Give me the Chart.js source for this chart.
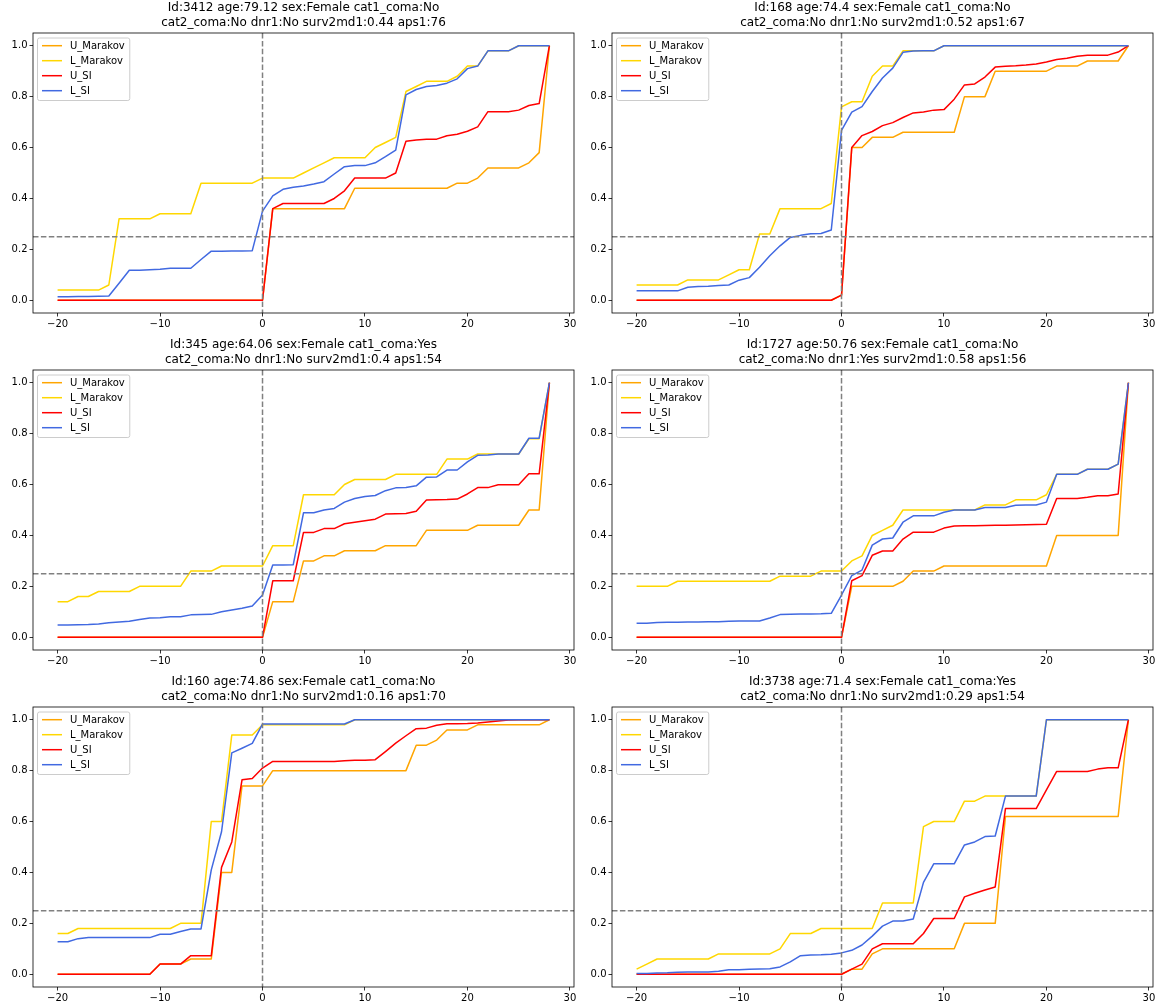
<!DOCTYPE html>
<html>
<head>
<meta charset="utf-8">
<script src="https://cdn.jsdelivr.net/npm/chart.js@4.4.1/dist/chart.umd.min.js"></script>
<style>
  html, body { margin: 0; padding: 0; background: #fff; width: 1158px; height: 1007px; overflow: hidden; }
  canvas { position: absolute; }
</style>
</head>
<body>
<canvas id="c1" width="607" height="335" style="left:0px;top:0px"></canvas>
<canvas id="c2" width="607" height="335" style="left:579px;top:0px"></canvas>
<canvas id="c3" width="607" height="335" style="left:0px;top:337px"></canvas>
<canvas id="c4" width="607" height="335" style="left:579px;top:337px"></canvas>
<canvas id="c5" width="607" height="335" style="left:0px;top:674px"></canvas>
<canvas id="c6" width="607" height="335" style="left:579px;top:674px"></canvas>
<script>
// x values (days relative to event)
const days = [-20,-19,-18,-17,-16,-15,-14,-13,-12,-11,-10,-9,-8,-7,-6,-5,-4,-3,-2,-1,
  0,1,2,3,4,5,6,7,8,9,10,11,12,13,14,15,16,17,18,19,20,21,22,23,24,25,26,27,28];
const xTicks = [-20, -10, 0, 10, 20, 30];
const yTicks = [0, 0.2, 0.4, 0.6, 0.8, 1.0];
const refX = 0;
const refY = 0.25;
const seriesNames = ['U_Marakov', 'L_Marakov', 'U_SI', 'L_SI'];
const seriesColors = ['#FFA500', '#FFD700', '#FF0000', '#4169E1'];

const titles = [
  ['Id:3412 age:79.12 sex:Female cat1_coma:No', 'cat2_coma:No dnr1:No surv2md1:0.44 aps1:76'],
  ['Id:168 age:74.4 sex:Female cat1_coma:No', 'cat2_coma:No dnr1:No surv2md1:0.52 aps1:67'],
  ['Id:345 age:64.06 sex:Female cat1_coma:Yes', 'cat2_coma:No dnr1:No surv2md1:0.4 aps1:54'],
  ['Id:1727 age:50.76 sex:Female cat1_coma:No', 'cat2_coma:No dnr1:Yes surv2md1:0.58 aps1:56'],
  ['Id:160 age:74.86 sex:Female cat1_coma:No', 'cat2_coma:No dnr1:No surv2md1:0.16 aps1:70'],
  ['Id:3738 age:71.4 sex:Female cat1_coma:Yes', 'cat2_coma:No dnr1:No surv2md1:0.29 aps1:54']
];

// panel 1 - Id 3412
const p1UMarakov = [0,0,0,0,0,0,0,0,0,0,0,0,0,0,0,0,0,0,0,0,
  0,0.36,0.36,0.36,0.36,0.36,0.36,0.36,0.36,0.44,0.44,0.44,0.44,0.44,0.44,0.44,0.44,0.44,0.44,0.46,0.46,0.48,0.52,0.52,0.52,0.52,0.54,0.58,1.0];
const p1LMarakov = [0.04,0.04,0.04,0.04,0.04,0.06,0.32,0.32,0.32,0.32,0.34,0.34,0.34,0.34,0.46,0.46,0.46,0.46,0.46,0.46,
  0.48,0.48,0.48,0.48,0.50,0.52,0.54,0.56,0.56,0.56,0.56,0.60,0.62,0.64,0.82,0.84,0.86,0.86,0.86,0.88,0.92,0.92,0.98,0.98,0.98,1.0,1.0,1.0,1.0];
const p1USI = [0,0,0,0,0,0,0,0,0,0,0,0,0,0,0,0,0,0,0,0,
  0,0.36,0.38,0.38,0.38,0.38,0.38,0.40,0.43,0.48,0.48,0.48,0.48,0.50,0.625,0.63,0.633,0.633,0.646,0.652,0.664,0.681,0.741,0.741,0.741,0.747,0.765,0.773,1.0];
const p1LSI = [0.014,0.014,0.015,0.015,0.016,0.017,0.067,0.118,0.118,0.12,0.122,0.126,0.126,0.126,0.16,0.193,0.193,0.194,0.194,0.195,
  0.35,0.41,0.436,0.444,0.449,0.457,0.466,0.496,0.525,0.529,0.529,0.54,0.564,0.59,0.807,0.828,0.84,0.844,0.853,0.87,0.91,0.92,0.98,0.98,0.98,1.0,1.0,1.0,1.0];

// panel 2 - Id 168
const p2UMarakov = [0,0,0,0,0,0,0,0,0,0,0,0,0,0,0,0,0,0,0,0,
  0.02,0.60,0.60,0.64,0.64,0.64,0.66,0.66,0.66,0.66,0.66,0.66,0.80,0.80,0.80,0.90,0.90,0.90,0.90,0.90,0.90,0.92,0.92,0.92,0.94,0.94,0.94,0.94,1.0];
const p2LMarakov = [0.06,0.06,0.06,0.06,0.06,0.08,0.08,0.08,0.08,0.10,0.12,0.12,0.26,0.26,0.36,0.36,0.36,0.36,0.36,0.38,
  0.76,0.78,0.78,0.88,0.92,0.92,0.98,0.98,0.98,0.98,1.0,1.0,1.0,1.0,1.0,1.0,1.0,1.0,1.0,1.0,1.0,1.0,1.0,1.0,1.0,1.0,1.0,1.0,1.0];
const p2USI = [0,0,0,0,0,0,0,0,0,0,0,0,0,0,0,0,0,0,0,0,
  0.02,0.60,0.647,0.663,0.686,0.698,0.718,0.736,0.74,0.747,0.749,0.79,0.846,0.85,0.877,0.916,0.919,0.921,0.924,0.928,0.936,0.946,0.951,0.959,0.963,0.963,0.963,0.975,1.0];
const p2LSI = [0.037,0.037,0.037,0.037,0.037,0.051,0.054,0.055,0.058,0.06,0.079,0.089,0.13,0.175,0.214,0.247,0.255,0.261,0.262,0.276,
  0.667,0.739,0.761,0.82,0.873,0.912,0.974,0.979,0.98,0.98,1.0,1.0,1.0,1.0,1.0,1.0,1.0,1.0,1.0,1.0,1.0,1.0,1.0,1.0,1.0,1.0,1.0,1.0,1.0];

// panel 3 - Id 345
const p3UMarakov = [0,0,0,0,0,0,0,0,0,0,0,0,0,0,0,0,0,0,0,0,
  0,0.14,0.14,0.14,0.30,0.30,0.32,0.32,0.34,0.34,0.34,0.34,0.36,0.36,0.36,0.36,0.42,0.42,0.42,0.42,0.42,0.44,0.44,0.44,0.44,0.44,0.50,0.50,1.0];
const p3LMarakov = [0.14,0.14,0.16,0.16,0.18,0.18,0.18,0.18,0.20,0.20,0.20,0.20,0.20,0.26,0.26,0.26,0.28,0.28,0.28,0.28,
  0.28,0.36,0.36,0.36,0.56,0.56,0.56,0.56,0.60,0.62,0.62,0.62,0.62,0.64,0.64,0.64,0.64,0.64,0.70,0.70,0.70,0.72,0.72,0.72,0.72,0.72,0.78,0.78,1.0];
const p3USI = [0,0,0,0,0,0,0,0,0,0,0,0,0,0,0,0,0,0,0,0,
  0,0.222,0.222,0.222,0.412,0.412,0.427,0.427,0.446,0.452,0.458,0.464,0.484,0.485,0.486,0.495,0.539,0.54,0.541,0.543,0.563,0.588,0.588,0.599,0.599,0.599,0.642,0.642,1.0];
const p3LSI = [0.048,0.048,0.049,0.05,0.052,0.057,0.06,0.063,0.07,0.076,0.077,0.081,0.081,0.088,0.089,0.09,0.1,0.107,0.114,0.123,
  0.166,0.284,0.284,0.285,0.489,0.489,0.5,0.506,0.531,0.545,0.553,0.557,0.576,0.587,0.588,0.595,0.629,0.63,0.657,0.657,0.689,0.715,0.716,0.72,0.72,0.72,0.782,0.782,1.0];

// panel 4 - Id 1727
const p4UMarakov = [0,0,0,0,0,0,0,0,0,0,0,0,0,0,0,0,0,0,0,0,
  0,0.20,0.20,0.20,0.20,0.20,0.22,0.26,0.26,0.26,0.28,0.28,0.28,0.28,0.28,0.28,0.28,0.28,0.28,0.28,0.28,0.40,0.40,0.40,0.40,0.40,0.40,0.40,1.0];
const p4LMarakov = [0.20,0.20,0.20,0.20,0.22,0.22,0.22,0.22,0.22,0.22,0.22,0.22,0.22,0.22,0.24,0.24,0.24,0.24,0.26,0.26,
  0.26,0.30,0.32,0.40,0.42,0.44,0.50,0.50,0.50,0.50,0.50,0.50,0.50,0.50,0.52,0.52,0.52,0.54,0.54,0.54,0.56,0.64,0.64,0.64,0.66,0.66,0.66,0.68,1.0];
const p4USI = [0,0,0,0,0,0,0,0,0,0,0,0,0,0,0,0,0,0,0,0,
  0,0.222,0.242,0.322,0.339,0.339,0.386,0.413,0.413,0.413,0.429,0.437,0.438,0.438,0.439,0.44,0.44,0.441,0.442,0.443,0.444,0.545,0.545,0.545,0.55,0.556,0.556,0.563,1.0];
const p4LSI = [0.055,0.055,0.058,0.059,0.059,0.06,0.06,0.061,0.061,0.063,0.064,0.064,0.064,0.076,0.089,0.09,0.091,0.091,0.092,0.094,
  0.166,0.242,0.264,0.362,0.386,0.39,0.452,0.477,0.477,0.477,0.491,0.50,0.50,0.50,0.51,0.51,0.51,0.519,0.52,0.52,0.531,0.64,0.64,0.64,0.66,0.66,0.66,0.68,1.0];

// panel 5 - Id 160
const p5UMarakov = [0,0,0,0,0,0,0,0,0,0,0.04,0.04,0.04,0.06,0.06,0.06,0.40,0.40,0.74,0.74,
  0.74,0.80,0.80,0.80,0.80,0.80,0.80,0.80,0.80,0.80,0.80,0.80,0.80,0.80,0.80,0.90,0.90,0.92,0.96,0.96,0.96,0.98,0.98,0.98,0.98,0.98,0.98,0.98,1.0];
const p5LMarakov = [0.16,0.16,0.18,0.18,0.18,0.18,0.18,0.18,0.18,0.18,0.18,0.18,0.20,0.20,0.20,0.60,0.60,0.94,0.94,0.94,
  0.98,0.98,0.98,0.98,0.98,0.98,0.98,0.98,0.98,1.0,1.0,1.0,1.0,1.0,1.0,1.0,1.0,1.0,1.0,1.0,1.0,1.0,1.0,1.0,1.0,1.0,1.0,1.0,1.0];
const p5USI = [0,0,0,0,0,0,0,0,0,0,0.04,0.04,0.04,0.073,0.073,0.073,0.42,0.52,0.764,0.769,
  0.81,0.836,0.836,0.836,0.836,0.836,0.836,0.836,0.839,0.841,0.841,0.843,0.875,0.908,0.937,0.965,0.967,0.978,0.984,0.984,0.985,0.987,0.991,0.995,0.999,1.0,1.0,1.0,1.0];
const p5LSI = [0.128,0.128,0.14,0.144,0.144,0.144,0.144,0.144,0.144,0.144,0.157,0.157,0.168,0.178,0.178,0.41,0.56,0.87,0.888,0.907,
  0.983,0.983,0.983,0.983,0.983,0.983,0.983,0.983,0.983,1.0,1.0,1.0,1.0,1.0,1.0,1.0,1.0,1.0,1.0,1.0,1.0,1.0,1.0,1.0,1.0,1.0,1.0,1.0,1.0];

// panel 6 - Id 3738
const p6UMarakov = [0,0,0,0,0,0,0,0,0,0,0,0,0,0,0,0,0,0,0,0,
  0,0.02,0.02,0.08,0.10,0.10,0.10,0.10,0.10,0.10,0.10,0.10,0.20,0.20,0.20,0.20,0.62,0.62,0.62,0.62,0.62,0.62,0.62,0.62,0.62,0.62,0.62,0.62,1.0];
const p6LMarakov = [0.02,0.04,0.06,0.06,0.06,0.06,0.06,0.06,0.08,0.08,0.08,0.08,0.08,0.08,0.10,0.16,0.16,0.16,0.18,0.18,
  0.18,0.18,0.18,0.18,0.28,0.28,0.28,0.28,0.58,0.60,0.60,0.60,0.68,0.68,0.70,0.70,0.70,0.70,0.70,0.70,1.0,1.0,1.0,1.0,1.0,1.0,1.0,1.0,1.0];
const p6USI = [0,0,0,0,0,0,0,0,0,0,0,0,0,0,0,0,0,0,0,0,
  0,0.02,0.04,0.10,0.12,0.12,0.12,0.12,0.16,0.219,0.219,0.219,0.304,0.318,0.331,0.343,0.651,0.651,0.651,0.651,0.724,0.797,0.797,0.797,0.797,0.806,0.811,0.811,1.0];
const p6LSI = [0.003,0.003,0.005,0.006,0.008,0.009,0.009,0.009,0.012,0.018,0.018,0.02,0.021,0.022,0.029,0.049,0.073,0.076,0.077,0.079,
  0.084,0.094,0.115,0.15,0.189,0.209,0.209,0.217,0.361,0.434,0.434,0.434,0.508,0.52,0.541,0.543,0.70,0.70,0.70,0.70,1.0,1.0,1.0,1.0,1.0,1.0,1.0,1.0,1.0];

const panels = [
  [p1UMarakov, p1LMarakov, p1USI, p1LSI],
  [p2UMarakov, p2LMarakov, p2USI, p2LSI],
  [p3UMarakov, p3LMarakov, p3USI, p3LSI],
  [p4UMarakov, p4LMarakov, p4USI, p4LSI],
  [p5UMarakov, p5LMarakov, p5USI, p5LSI],
  [p6UMarakov, p6LMarakov, p6USI, p6LSI]
];

Chart.defaults.font.family = "'DejaVu Sans', sans-serif";
Chart.defaults.color = '#000';

// dashed reference lines + axes frame
const refLines = {
  id: 'refLines',
  afterDatasetsDraw(chart) {
    const {ctx, chartArea: a, scales: {x, y}} = chart;
    ctx.save();
    ctx.beginPath();
    ctx.rect(a.left, a.top, a.right - a.left, a.bottom - a.top);
    ctx.clip();
    ctx.strokeStyle = '#808080';
    ctx.lineWidth = 1.5;
    ctx.setLineDash([5.5, 2.4]);
    const px = x.getPixelForValue(refX);
    const py = y.getPixelForValue(refY);
    ctx.beginPath();
    ctx.moveTo(px, a.top);
    ctx.lineTo(px, a.bottom);
    ctx.moveTo(a.left, py);
    ctx.lineTo(a.right, py);
    ctx.stroke();
    ctx.restore();
    ctx.save();
    ctx.strokeStyle = '#000';
    ctx.lineWidth = 0.8;
    ctx.strokeRect(a.left, a.top, a.right - a.left, a.bottom - a.top);
    ctx.restore();
  }
};

// matplotlib style legend in the upper left corner
const boxLegend = {
  id: 'boxLegend',
  afterDraw(chart) {
    const {ctx, chartArea: a} = chart;
    ctx.save();
    ctx.font = "10px 'DejaVu Sans'";
    let tw = 0;
    chart.data.datasets.forEach(d => { tw = Math.max(tw, ctx.measureText(d.label).width); });
    const fx = a.left + 4.5, fy = a.top + 5;
    const fw = 32.5 + tw + 5, fh = 62.5;
    ctx.fillStyle = 'rgba(255,255,255,0.8)';
    ctx.strokeStyle = '#cccccc';
    ctx.lineWidth = 1;
    ctx.beginPath();
    ctx.roundRect(fx, fy, fw, fh, 2);
    ctx.fill();
    ctx.stroke();
    chart.data.datasets.forEach((d, i) => {
      const ry = a.top + 12.7 + 15 * i;
      ctx.strokeStyle = d.borderColor;
      ctx.lineWidth = 1.5;
      ctx.beginPath();
      ctx.moveTo(a.left + 9, ry);
      ctx.lineTo(a.left + 29, ry);
      ctx.stroke();
      ctx.fillStyle = '#000';
      ctx.textBaseline = 'middle';
      ctx.fillText(d.label, a.left + 37, ry + 0.5);
    });
    ctx.restore();
  }
};

function fmtX(v) {
  return v < 0 ? '\u2212' + Math.abs(v) : String(v);
}

panels.forEach((series, p) => {
  new Chart(document.getElementById('c' + (p + 1)), {
    type: 'line',
    data: {
      datasets: series.map((vals, k) => ({
        label: seriesNames[k],
        data: vals.map((v, i) => ({x: days[i], y: v})),
        borderColor: seriesColors[k],
        backgroundColor: seriesColors[k],
        borderWidth: 1.5,
        pointRadius: 0,
        tension: 0,
        fill: false,
        borderJoinStyle: 'round',
        order: 3 - k
      }))
    },
    options: {
      responsive: false,
      animation: false,
      devicePixelRatio: 1,
      layout: { padding: 0 },
      plugins: {
        legend: { display: false },
        tooltip: { enabled: false },
        title: {
          display: true,
          text: titles[p],
          color: '#000',
          font: { size: 12, weight: 'normal', lineHeight: 1.2 },
          padding: { top: 1, bottom: 3.2 }
        }
      },
      scales: {
        x: {
          type: 'linear',
          min: -22.4,
          max: 30.4,
          afterBuildTicks: s => { s.ticks = xTicks.map(v => ({value: v})); },
          afterFit: s => { s.height = 22; },
          ticks: { callback: v => fmtX(v), font: { size: 10 }, padding: 2, maxRotation: 0, autoSkip: false },
          grid: { drawOnChartArea: false, drawTicks: true, tickLength: 3.5, tickColor: '#000', tickWidth: 0.8 },
          border: { display: false }
        },
        y: {
          min: -0.05,
          max: 1.05,
          afterBuildTicks: s => { s.ticks = yTicks.map(v => ({value: v})); },
          afterFit: s => { s.width = 33; },
          ticks: { callback: v => v.toFixed(1), font: { size: 10 }, padding: 2 },
          grid: { drawOnChartArea: false, drawTicks: true, tickLength: 3.5, tickColor: '#000', tickWidth: 0.8 },
          border: { display: false }
        },
        y2: {
          position: 'right',
          min: 0,
          max: 1,
          afterFit: s => { s.width = 33; },
          ticks: { display: false },
          grid: { display: false },
          border: { display: false }
        }
      }
    },
    plugins: [refLines, boxLegend]
  });
});
</script>
</body>
</html>
